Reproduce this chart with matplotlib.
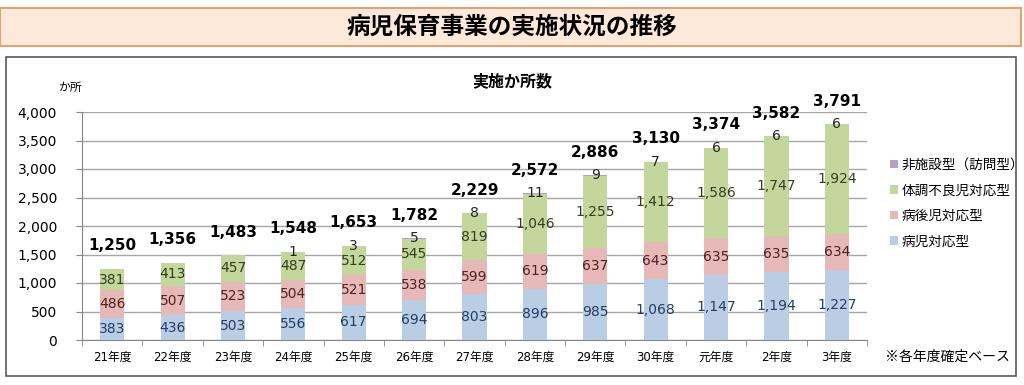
import numpy as np
import matplotlib.pyplot as plt
from matplotlib.patches import Rectangle

plt.rcParams['font.family'] = ['DejaVu Sans', 'Noto Sans CJK JP']

years = ['21年度', '22年度', '23年度', '24年度', '25年度', '26年度', '27年度',
         '28年度', '29年度', '30年度', '元年度', '2年度', '3年度']
byoji = [383, 436, 503, 556, 617, 694, 803, 896, 985, 1068, 1147, 1194, 1227]
byogo = [486, 507, 523, 504, 521, 538, 599, 619, 637, 643, 635, 635, 634]
taicho = [381, 413, 457, 487, 512, 545, 819, 1046, 1255, 1412, 1586, 1747, 1924]
houmon = [0, 0, 0, 1, 3, 5, 8, 11, 9, 7, 6, 6, 6]

series_names = ['病児対応型', '病後児対応型', '体調不良児対応型', '非施設型（訪問型）']
colors = ['#B9CDE5', '#E6B9B8', '#C3D69B', '#B3A2C7']
label_colors = ['#243F60', '#4D2322', '#333F1E', '#222222']

fig = plt.figure(figsize=(10.24, 3.85), dpi=100)

# header banner
fig.patches.append(Rectangle((0.0, 1 - 46 / 385), 0.997, 38 / 385, transform=fig.transFigure,
                             facecolor='#FDE9D9', edgecolor='#E3A36F', linewidth=1.5, zorder=-2))
fig.text(0.5, 1 - 27 / 385, '病児保育事業の実施状況の推移', ha='center', va='center',
         fontsize=17, fontweight='bold', family=['Noto Sans CJK JP'])

# chart frame
fig.patches.append(Rectangle((6 / 1024, 9 / 385), 1010 / 1024, 319 / 385,
                             transform=fig.transFigure, facecolor='white',
                             edgecolor='#595959', linewidth=1.2, zorder=-2))

ax = fig.add_axes([82 / 1024, 1 - 340 / 385, 785 / 1024, 228 / 385])
ax.patch.set_alpha(0)
x = np.arange(len(years))
data = [byoji, byogo, taicho, houmon]
bottom = np.zeros(len(years))
bars = []
for vals, c, name in zip(data, colors, series_names):
    b = ax.bar(x, vals, 0.4, bottom=bottom, color=c, label=name, zorder=3)
    bars.append(b)
    bottom += np.array(vals)

# segment labels
base = np.zeros(len(years))
for k, vals in enumerate(data[:3]):
    for i, v in enumerate(vals):
        ax.text(x[i], base[i] + v / 2, f'{v:,}', ha='center', va='center',
                fontsize=10, color=label_colors[k], zorder=4)
    base += np.array(vals)
for i, v in enumerate(houmon):
    if v > 0:
        ax.text(x[i], base[i] + v, f'{v:,}', ha='center', va='center',
                fontsize=10, color=label_colors[3], zorder=4)

totals = bottom
for i, t in enumerate(totals):
    ax.text(x[i], t + 400, f'{int(t):,}', ha='center', va='center',
            fontsize=11, fontweight='bold', color='black', zorder=4, clip_on=False)

ax.set_xlim(-0.5, len(years) - 0.5)
ax.set_ylim(0, 4000)
ax.set_yticks(np.arange(0, 4001, 500))
ax.set_yticklabels([f'{v:,}' for v in range(0, 4001, 500)], fontsize=10)
ax.set_xticks(x)
ax.set_xticklabels(years, fontsize=8.5, family=['DejaVu Sans', 'Noto Sans CJK JP'])
ax.set_xticks(np.arange(-0.5, len(years)), minor=True)
ax.tick_params(axis='x', which='major', length=0, pad=8)
ax.tick_params(axis='x', which='minor', length=4, color='#868686')
ax.tick_params(axis='y', length=4, color='#868686', pad=14)
ax.grid(axis='y', color='#A6A6A6', linewidth=1, zorder=0)
for s in ['top', 'right']:
    ax.spines[s].set_visible(False)
for s in ['left', 'bottom']:
    ax.spines[s].set_color('#868686')

ax.text(-0.0, 1.08, 'か所', transform=ax.transAxes, ha='right', va='bottom',
        fontsize=8.5, family=['Noto Sans CJK JP'])
fig.text(0.5, 1 - 81 / 385, '実施か所数', ha='center', va='center', fontsize=11.5,
         fontweight='bold', family=['Noto Sans CJK JP'])

handles = bars[::-1]
leg = fig.legend(handles, series_names[::-1], loc='center left',
                 bbox_to_anchor=(878 / 1024, 1 - 203 / 385), frameon=False,
                 prop={'family': 'Noto Sans CJK JP', 'size': 9.8},
                 handlelength=0.55, handleheight=0.55, labelspacing=0.85, handletextpad=0.3)

fig.text(1010 / 1024, 1 - 357 / 385, '※各年度確定ベース', ha='right', va='center',
         fontsize=10, family=['Noto Sans CJK JP'])

fig.savefig('out.png', dpi=100)
